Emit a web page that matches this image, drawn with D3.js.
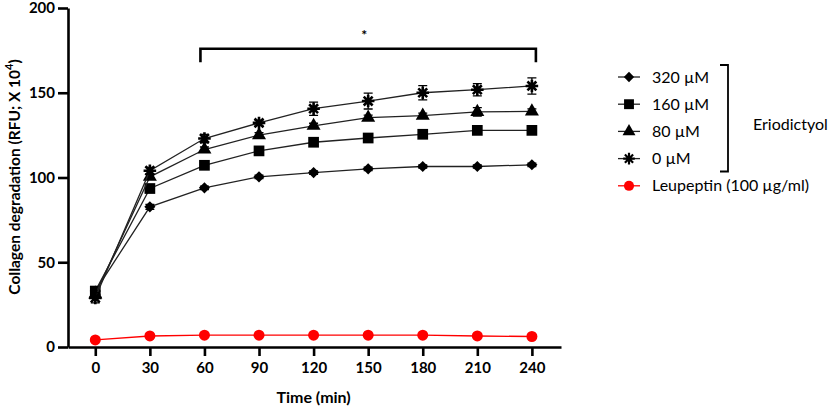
<!DOCTYPE html>
<html>
<head>
<meta charset="utf-8">
<script src="https://cdn.jsdelivr.net/npm/d3@7"></script>
<style>
  body { margin:0; background:#fff; }
  svg text { font-family: Lato, "Open Sans", sans-serif; }
</style>
</head>
<body>
<div id="chart-area"></div>
<script>
// time points (min)
const times = [0, 30, 60, 90, 120, 150, 180, 210, 240];

// series names and values (RFU x 10^4)
const seriesNames = ["320 \u00b5M", "160 \u00b5M", "80 \u00b5M", "0 \u00b5M", "Leupeptin (100 \u00b5g/ml)"];
const conc320 = [33, 82.7, 93.9, 100.4, 102.9, 105.1, 106.5, 106.5, 107.5];
const conc160 = [33, 93.5, 107.2, 115.7, 120.8, 123.3, 125.5, 127.8, 127.8];
const conc80  = [31, 100.4, 116.5, 125, 130.5, 135.3, 136.5, 138.7, 139];
const conc0   = [29, 104, 123, 132.2, 140.6, 145.1, 150, 151.8, 154];
const leupeptin = [4.2, 6.5, 7, 7, 7, 7, 7, 6.5, 6.2];

// SEM (error bars)
const err320 = [1.5, 1.5, 1, 1, 1, 1, 1, 1, 1];
const err160 = [1.5, 1.5, 1.5, 1.5, 1.5, 1.5, 1.5, 1.5, 1.5];
const err80  = [1.5, 1.5, 1.5, 1.5, 1.5, 1.5, 1.5, 2.5, 1.5];
const err0   = [3, 2, 2.5, 1.5, 3.9, 4.7, 4.2, 3.6, 4.8];
const errLeu = [0.5, 0.5, 0.5, 0.5, 0.5, 0.5, 0.5, 0.5, 0.5];

const xTicks = [0, 30, 60, 90, 120, 150, 180, 210, 240];
const yTicks = [0, 50, 100, 150, 200];

const W = 829, H = 408;

const svg = d3.select("#chart-area")
    .append("svg")
    .attr("width", W)
    .attr("height", H);

const x = d3.scaleLinear().domain([-15, 256]).range([68, 561]);
const y = d3.scaleLinear().domain([0, 200]).range([347, 8]);

// 8-armed asterisk symbol
const star8 = {
    draw(ctx, size) {
        const r = Math.sqrt(size) * 0.6;
        for (let i = 0; i < 4; i++) {
            const a = i * Math.PI / 4;
            ctx.moveTo(-r * Math.cos(a), -r * Math.sin(a));
            ctx.lineTo(r * Math.cos(a), r * Math.sin(a));
        }
    }
};

const series = [
    { name: seriesNames[0], vals: conc320, err: err320, color: "#000", sym: d3.symbolSquare, size: 62, rot: 45, stroke: false },
    { name: seriesNames[1], vals: conc160, err: err160, color: "#000", sym: d3.symbolSquare, size: 115, rot: 0, stroke: false },
    { name: seriesNames[2], vals: conc80, err: err80, color: "#000", sym: d3.symbolTriangle, size: 85, rot: 0, stroke: false },
    { name: seriesNames[3], vals: conc0, err: err0, color: "#000", sym: star8, size: 110, rot: 0, stroke: true },
    { name: seriesNames[4], vals: leupeptin, err: errLeu, color: "#ff0000", sym: d3.symbolCircle, size: 95, rot: 0, stroke: false }
];

// axes
const xAxis = svg.append("g")
    .attr("transform", "translate(0," + y(0) + ")")
    .call(d3.axisBottom(x).tickValues(xTicks).tickSize(9).tickPadding(6).tickSizeOuter(0));
const yAxis = svg.append("g")
    .attr("transform", "translate(" + x(-15) + ",0)")
    .call(d3.axisLeft(y).tickValues(yTicks).tickSize(10).tickPadding(3).tickSizeOuter(0));

[xAxis, yAxis].forEach(function(a){
    a.select(".domain").attr("stroke", "#000").attr("stroke-width", 2.6);
    a.selectAll(".tick line").attr("stroke", "#000").attr("stroke-width", 2.6);
    a.selectAll("text")
        .attr("fill", "#000")
        .attr("font-size", "15px")
        .attr("font-weight", "bold")
        .style("font-family", "Lato, sans-serif");
});

// lines
const line = d3.line()
    .x(function(d, i){ return x(times[i]); })
    .y(function(d){ return y(d); });

const plot = svg.append("g");

series.forEach(function(s){
    const g = plot.append("g");
    g.append("path")
        .datum(s.vals)
        .attr("fill", "none")
        .attr("stroke", s.color === "#000" ? "#222" : s.color)
        .attr("stroke-width", 1.3)
        .attr("d", line);

    // error bars
    g.selectAll(".err")
        .data(s.vals)
        .enter()
        .append("path")
        .attr("fill", "none")
        .attr("stroke", s.color)
        .attr("stroke-width", 1.3)
        .attr("d", function(d, i){
            const cx = x(times[i]), y1 = y(d + s.err[i]), y2 = y(d - s.err[i]);
            return "M" + (cx - 4.5) + "," + y1 + "H" + (cx + 4.5) +
                   "M" + cx + "," + y1 + "V" + y2 +
                   "M" + (cx - 4.5) + "," + y2 + "H" + (cx + 4.5);
        });

    g.selectAll(".pt")
        .data(s.vals)
        .enter()
        .append("path")
        .attr("d", d3.symbol().type(s.sym).size(s.size))
        .attr("transform", function(d, i){
            return "translate(" + x(times[i]) + "," + y(d) + ") rotate(" + s.rot + ")";
        })
        .attr("fill", s.stroke ? "none" : s.color)
        .attr("stroke", s.stroke ? s.color : "none")
        .attr("stroke-width", s.stroke ? 2.6 : 0);
});

// significance bracket
const brk = svg.append("g");
brk.append("path")
    .attr("fill", "none")
    .attr("stroke", "#000")
    .attr("stroke-width", 2.6)
    .attr("d", "M" + (x(60) - 4) + "," + y(168) + "V" + y(176) + "H" + (x(240) + 4) + "V" + y(168));
brk.append("text")
    .attr("x", x(150) - 4)
    .attr("y", 40)
    .attr("text-anchor", "middle")
    .attr("font-size", "14px")
    .attr("font-weight", "bold")
    .text("*");

// axis titles
svg.append("text")
    .attr("x", x(120))
    .attr("y", 403)
    .attr("text-anchor", "middle")
    .attr("font-size", "16px")
    .attr("font-weight", "bold")
    .text("Time (min)");

const yl = svg.append("text")
    .attr("transform", "translate(20," + 177 + ") rotate(-90)")
    .attr("text-anchor", "middle")
    .attr("font-size", "15.5px")
    .attr("font-weight", "bold");
yl.append("tspan").text("Collagen degradation (RFU; X 10");
yl.append("tspan").attr("font-size", "11px").attr("dy", -7).text("4");
yl.append("tspan").attr("dy", 7).text(")");

// legend
const legend = svg.append("g");
series.forEach(function(s, i){
    const ly = 77 + i * 27.2;
    legend.append("line")
        .attr("x1", 618).attr("x2", 640)
        .attr("y1", ly).attr("y2", ly)
        .attr("stroke", s.color === "#000" ? "#222" : s.color)
        .attr("stroke-width", 1.3);
    legend.append("path")
        .attr("d", d3.symbol().type(s.sym).size(s.size * 0.85))
        .attr("transform", "translate(629," + ly + ") rotate(" + s.rot + ")")
        .attr("fill", s.stroke ? "none" : s.color)
        .attr("stroke", s.stroke ? s.color : "none")
        .attr("stroke-width", s.stroke ? 2.2 : 0);
    legend.append("text")
        .attr("x", 652)
        .attr("y", ly + 5.5)
        .attr("font-size", "16px")
        .attr("fill", "#000")
        .text(s.name);
});

// bracket grouping eriodictyol doses
legend.append("path")
    .attr("fill", "none")
    .attr("stroke", "#000")
    .attr("stroke-width", 1.8)
    .attr("d", "M720,65H728V171.5H720");
legend.append("text")
    .attr("x", 753)
    .attr("y", 130)
    .attr("font-size", "16px")
    .text("Eriodictyol");
</script>
</body>
</html>
